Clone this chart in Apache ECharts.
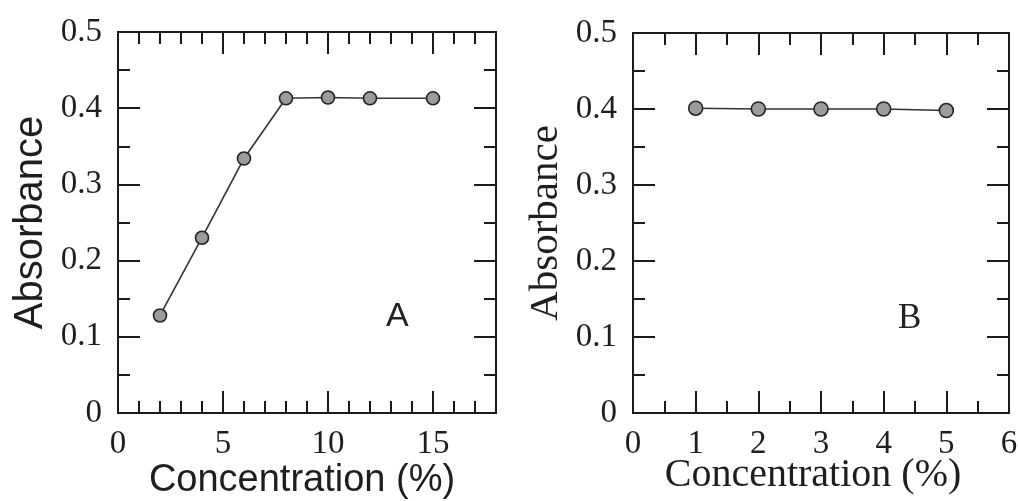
<!DOCTYPE html>
<html>
<head>
<meta charset="utf-8">
<script src="https://cdn.jsdelivr.net/npm/echarts@6/dist/echarts.min.js"></script>
<style>html,body{margin:0;padding:0;background:#fff}#c{width:1018px;height:501px}</style>
</head>
<body>
<div id="c"></div>
<script>
// ---- Data ----
const A_x = [2, 4, 6, 8, 10, 12, 15];
const A_y = [0.128, 0.230, 0.334, 0.413, 0.414, 0.413, 0.413];
const B_x = [1, 2, 3, 4, 5];
const B_y = [0.401, 0.400, 0.400, 0.400, 0.398];

const A_xLabels = [0, 5, 10, 15];
const A_xMajor = [5, 10, 15];
const A_xMinor = [1, 2, 3, 4, 6, 7, 8, 9, 11, 12, 13, 14, 16, 17];
const B_xLabels = [0, 1, 2, 3, 4, 5, 6];
const B_xMajor = [1, 2, 3, 4, 5];
const B_xMinor = [0.5, 1.5, 2.5, 3.5, 4.5, 5.5];
const yLabels = [0, 0.1, 0.2, 0.3, 0.4, 0.5];
const yMajor = [0.1, 0.2, 0.3, 0.4];
const yMinor = [0.05, 0.15, 0.25, 0.35, 0.45];

const xTitle = 'Concentration (%)';
const yTitle = 'Absorbance';

// ---- Styles ----
const INK = '#1a1a1a';
const SERIF = '"Liberation Serif", "DejaVu Serif", serif';
const SANS = '"Liberation Sans", Arial, sans-serif';
const MAJ = 22, MIN = 12;

function mkAxes(kind, grid, min, max, major, minor, labels, name, nameFont, nameSize, nameGap, namePad) {
  const lineStyle = { color: INK, width: 2 };
  const base = (pos, ticks, len, withLabel) => {
    const ax = {
      type: 'value', gridIndex: grid, position: pos, min: min, max: max,
      splitLine: { show: false },
      axisLine: { show: true, onZero: false, lineStyle: lineStyle },
      axisTick: { show: true, inside: true, length: len, customValues: ticks, lineStyle: { color: INK, width: 2 } },
      axisLabel: { show: false }
    };
    if (withLabel) {
      ax.axisLabel = {
        show: true, customValues: labels, margin: kind === 'x' ? 15 : 16,
        fontFamily: SERIF, fontSize: 33, color: '#1e1e1e',
        formatter: v => String(Math.round(v * 100) / 100)
      };
      ax.name = name;
      ax.nameLocation = 'middle';
      ax.nameGap = nameGap;
      if (kind === 'x') ax.nameMoveOverlap = false;
      ax.nameTextStyle = { fontFamily: nameFont, fontSize: nameSize, color: '#1e1e1e', padding: namePad || 0 };
    }
    return ax;
  };
  const p1 = kind === 'x' ? 'bottom' : 'left';
  const p2 = kind === 'x' ? 'top' : 'right';
  return [
    base(p1, major, MAJ, true),
    base(p1, minor, MIN, false),
    base(p2, major, MAJ, false),
    base(p2, minor, MIN, false)
  ];
}

const xAxes = [
  ...mkAxes('x', 0, 0, 18, A_xMajor, A_xMinor, A_xLabels, xTitle, SANS, 38, 49, [0, 10, 0, 0]),
  ...mkAxes('x', 1, 0, 6, B_xMajor, B_xMinor, B_xLabels, xTitle, SERIF, 40, 42, [0, 16, 0, 0])
];
const yAxes = [
  ...mkAxes('y', 0, 0, 0.5, yMajor, yMinor, yLabels, yTitle, SANS, 40, 67),
  ...mkAxes('y', 1, 0, 0.5, yMajor, yMinor, yLabels, yTitle, SERIF, 41, 66)
];

const seriesStyle = {
  type: 'line',
  symbol: 'circle',
  symbolSize: 13,
  lineStyle: { color: '#333', width: 1.6 },
  itemStyle: { color: '#9c9c9c', borderColor: '#222', borderWidth: 1.6 },
  emphasis: { disabled: true },
  animation: false
};

const chart = echarts.init(document.getElementById('c'), null, { renderer: 'canvas' });
chart.setOption({
  backgroundColor: '#fff',
  animation: false,
  grid: [
    { left: 118, right: 522, top: 32, bottom: 88, outerBoundsMode: 'none', containLabel: false },
    { left: 633, right: 9, top: 33, bottom: 88, outerBoundsMode: 'none', containLabel: false }
  ],
  xAxis: xAxes,
  yAxis: yAxes,
  series: [
    Object.assign({}, seriesStyle, { xAxisIndex: 0, yAxisIndex: 0, data: A_x.map((x, i) => [x, A_y[i]]) }),
    Object.assign({}, seriesStyle, { xAxisIndex: 4, yAxisIndex: 4, data: B_x.map((x, i) => [x, B_y[i]]), symbolSize: 14 })
  ],
  graphic: [
    { type: 'text', left: 386, top: 300, style: { text: 'A', font: '34px ' + SANS, fill: '#222' } },
    { type: 'text', left: 898, top: 301, style: { text: 'B', font: '35px ' + SERIF, fill: '#222' } }
  ]
});
</script>
</body>
</html>
